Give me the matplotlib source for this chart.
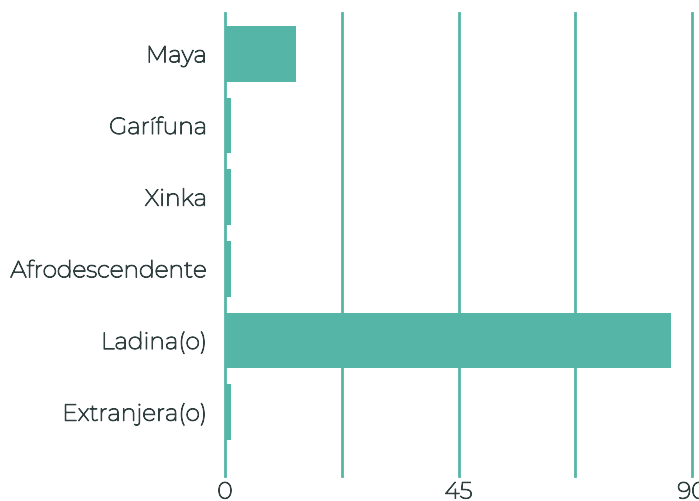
import matplotlib.pyplot as plt
import matplotlib.patheffects as pe

categorias = ["Maya", "Garífuna", "Xinka", "Afrodescendente", "Ladina(o)", "Extranjera(o)"]
valores = [13.6, 1.1, 1.1, 1.1, 85.9, 1.1]
ticks_x = [0, 45, 90]
rejilla_x = [0, 22.5, 45, 67.5, 90]

teal = "#55b5a6"
texto = "#2f3f3f"

plt.rcParams['font.family'] = ['Montserrat', 'Open Sans', 'DejaVu Sans']

fig = plt.figure(figsize=(6.99, 5.02), dpi=100)
ax = fig.add_axes([225/699, 1 - 477/502, (692 - 225)/699, (477 - 14)/502])

for x in rejilla_x:
    ax.axvline(x, color=teal, linewidth=2, zorder=1, clip_on=False)
ax.barh(range(len(categorias)), valores, height=0.78, color=teal, zorder=2)

ax.set_xlim(0, 90)
ax.set_ylim(5.89, -0.57)
ax.set_xticks(ticks_x)

ax.set_yticks(range(len(categorias)))
ax.set_yticklabels(categorias, va="center_baseline")
for s in ax.spines.values():
    s.set_visible(False)
ax.tick_params(axis="both", length=0, labelsize=16.8, labelcolor=texto)
ax.tick_params(axis="y", pad=13)
ax.tick_params(axis="x", pad=4)

# el Montserrat instalado sale muy fino: engrosar con un trazo
grueso = [pe.withStroke(linewidth=0.75, foreground=texto)]
for t in ax.get_xticklabels() + ax.get_yticklabels():
    t.set_path_effects(grueso)

fig.savefig("out.png", dpi=100)
